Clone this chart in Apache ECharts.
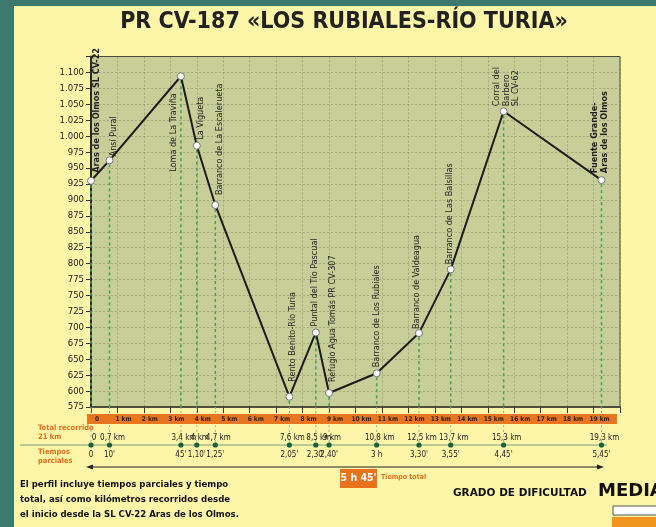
<!DOCTYPE html>
<html>
<head>
<meta charset="utf-8">
<script src="https://cdn.jsdelivr.net/npm/echarts@6/dist/echarts.min.js"></script>
<style>
  html, body { margin: 0; padding: 0; background: #3d7a6d; }
  #panel { position: absolute; left: 14px; top: 6px; width: 642px; height: 521px; background: #fdf5a8; }
  #chart { position: absolute; left: 0; top: 0; width: 656px; height: 527px; }
</style>
</head>
<body>
<div id="panel"></div>
<div id="chart"></div>
<script>
// puntos de paso del perfil
const kmPos = [0, 0.7, 3.4, 4.0, 4.7, 7.5, 8.5, 9.0, 10.8, 12.4, 13.6, 15.6, 19.3];
const elevation = [930, 962, 1094, 985, 892, 591, 692, 597, 628, 691, 791, 1039, 931];
const placeNames = [
  'Aras de los Olmos SL CV-22',
  'Ansí Pural',
  'Loma de La Traviña',
  'La Vigueta',
  'Barranco de La Escalerueta',
  'Rento Benito-Río Turia',
  'Puntal del Tío Pascual',
  'Refugio Agua Tomás PR CV-307',
  'Barranco de Los Rubiales',
  'Barranco de Valdeagua',
  'Barranco de Las Balsillas',
  'Corral del\nBarbero\nSL CV-62',
  'Fuente Grande-\nAras de los Olmos'
];
const kmText = ['0', '0,7 km', '3,4 km', '4 km', '4,7 km', '7,6 km', '8,5 km', '9 km',
  '10,8 km', '12,5 km', '13,7 km', '15,3 km', '19,3 km'];
const timeText = ['0', "10'", "45'", "1,10'", "1,25'", "2,05'", "2,30'", "2,40'",
  '3 h', "3,30'", "3,55'", "4,45'", "5,45'"];

const yMin = 575, yMax = 1125, yStep = 25;
const kmMax = 20;

// posicion de las etiquetas giradas respecto al punto: [dx, dy, align]
const labelLayout = [
  [6, -8, 'left'], [4, -4, 'left'], [-7, 17, 'right'], [4, -6, 'left'],
  [4, -10, 'left'], [3, -15, 'left'], [-1, -6, 'left'], [4, -11, 'left'],
  [0, -6, 'left'], [-2, -4, 'left'], [-1, -5, 'left'], [3, -5, 'left'], [-2, -7, 'left']
];

const COND = '"DejaVu Sans Condensed", "DejaVu Sans", sans-serif';
const ORANGE = '#e8731c';

function fmtElev(v) {
  if (v > 1100) return '';
  return v >= 1000 ? '1.' + String(v - 1000).padStart(3, '0') : String(v);
}

const pts = kmPos.map((k, i) => [k, elevation[i], i]);

// lineas verticales de cada punto de paso
function renderGuide(params, api) {
  const p = api.coord([api.value(0), api.value(1)]);
  const base = api.coord([api.value(0), yMin])[1];
  return {
    type: 'group',
    children: [
      { type: 'line', shape: { x1: p[0], y1: p[1] + 4, x2: p[0], y2: base },
        style: { stroke: '#46a05a', lineWidth: 1.5, lineDash: [3, 3] } },
      { type: 'line', shape: { x1: p[0], y1: base, x2: p[0], y2: base + 7 },
        style: { stroke: '#8aa88a', lineWidth: 1, lineDash: [2, 2] } },
      { type: 'line', shape: { x1: p[0], y1: base + 18, x2: p[0], y2: base + 38 },
        style: { stroke: '#9fb59a', lineWidth: 1, lineDash: [2, 3] } }
    ]
  };
}

// nombres girados + tabla de km y tiempos
function renderWaypoint(params, api) {
  const i = api.value(2);
  const p = api.coord([api.value(0), api.value(1)]);
  const base = api.coord([api.value(0), yMin])[1];
  const lay = labelLayout[i];
  const bold = (i === 0 || i === placeNames.length - 1);
  return {
    type: 'group',
    children: [
      { type: 'text', x: p[0] + lay[0], y: p[1] + lay[1], rotation: Math.PI / 2,
        style: { text: placeNames[i], fontSize: 9, fontFamily: COND,
          fontWeight: bold ? 'bold' : 'normal', fill: '#1e1e1e',
          align: lay[2], verticalAlign: 'middle', lineHeight: 9.5 } },
      { type: 'text', x: p[0] + 3, y: base + 31,
        style: { text: kmText[i], fontSize: 8, fontFamily: COND, fill: '#222',
          align: 'center', verticalAlign: 'middle' } },
      { type: 'circle', shape: { cx: p[0], cy: base + 38, r: 2.6 },
        style: { fill: '#17603a' } },
      { type: 'text', x: p[0], y: base + 48,
        style: { text: timeText[i], fontSize: 8, fontFamily: COND, fill: '#222',
          align: 'center', verticalAlign: 'middle' } }
    ]
  };
}

const chart = echarts.init(document.getElementById('chart'));

chart.setOption({
  animation: false,
  backgroundColor: 'transparent',
  grid: {
    left: 91, top: 56.5, width: 529, height: 350.5,
    show: true, backgroundColor: '#c7ce98', borderColor: '#4a4a3a', borderWidth: 1
  },
  xAxis: {
    type: 'value', min: 0, max: kmMax, interval: 1,
    axisLine: { lineStyle: { color: '#3a3a30', width: 1.5 } },
    axisTick: { show: true, length: 6, lineStyle: { color: '#3a3a30' } },
    axisLabel: {
      margin: 9, fontSize: 6.5, fontWeight: 'bold', fontFamily: COND, color: '#2b1d0e',
      padding: [0, 0, 0, 12],
      formatter: v => (v === 0 ? '0' : (v < kmMax ? v + ' km' : ''))
    },
    splitLine: { show: true, lineStyle: { color: 'rgba(90,100,70,0.35)', type: [2, 2] } }
  },
  yAxis: {
    type: 'value', min: yMin, max: yMax, interval: yStep,
    axisLine: { show: true, lineStyle: { color: '#2a2a2a', width: 2 } },
    axisTick: { show: true, length: 5, lineStyle: { color: '#333' } },
    axisLabel: { margin: 7, fontSize: 9.5, fontFamily: COND, color: '#222', formatter: fmtElev },
    splitLine: { show: true, lineStyle: { color: 'rgba(90,100,70,0.35)', type: [2, 2] } }
  },
  series: [
    { type: 'custom', z: 1, clip: false, renderItem: renderGuide, data: pts, silent: true },
    {
      type: 'line', z: 3, data: pts.map(d => [d[0], d[1]]),
      symbol: 'circle', symbolSize: 7,
      itemStyle: { color: '#ffffff', borderColor: '#777', borderWidth: 1 },
      lineStyle: { color: '#1c1c1c', width: 2 }
    },
    { type: 'custom', z: 4, clip: false, renderItem: renderWaypoint, data: pts, silent: true }
  ],
  graphic: [
    { type: 'text', x: 344, y: 22,
      style: { text: 'PR CV-187 «LOS RUBIALES-RÍO TURIA»', fontSize: 23, fontWeight: 'bold',
        fontFamily: COND, fill: '#222', align: 'center', verticalAlign: 'middle' } },
    // banda naranja de km
    { type: 'rect', z: -1, shape: { x: 87, y: 414, width: 530, height: 10 }, style: { fill: '#e8751f' } },
    { type: 'text', x: 38, y: 428, style: { text: 'Total recorrido', fontSize: 7.5, fontWeight: 'bold',
        fontFamily: COND, fill: '#e36f1c', verticalAlign: 'middle' } },
    { type: 'text', x: 38, y: 437, style: { text: '21 km', fontSize: 7.5, fontWeight: 'bold',
        fontFamily: COND, fill: '#e36f1c', verticalAlign: 'middle' } },
    { type: 'text', x: 38, y: 452, style: { text: 'Tiempos', fontSize: 7.5, fontWeight: 'bold',
        fontFamily: COND, fill: '#e36f1c', verticalAlign: 'middle' } },
    { type: 'text', x: 38, y: 461, style: { text: 'parciales', fontSize: 7.5, fontWeight: 'bold',
        fontFamily: COND, fill: '#e36f1c', verticalAlign: 'middle' } },
    { type: 'rect', z: -1, shape: { x: 20, y: 444, width: 587, height: 2 }, style: { fill: '#b8c992' } },
    // flecha
    { type: 'line', shape: { x1: 92, y1: 467, x2: 598, y2: 467 }, style: { stroke: '#222', lineWidth: 1 } },
    { type: 'polygon', shape: { points: [[86, 467], [93, 464.5], [93, 469.5]] }, style: { fill: '#222' } },
    { type: 'polygon', shape: { points: [[604, 467], [597, 464.5], [597, 469.5]] }, style: { fill: '#222' } },
    // tiempo total
    { type: 'rect', shape: { x: 340, y: 469, width: 37, height: 19 }, style: { fill: ORANGE } },
    { type: 'text', x: 358.5, y: 478.5, style: { text: "5 h 45'", fontSize: 10.5, fontWeight: 'bold',
        fontFamily: COND, fill: '#fff', align: 'center', verticalAlign: 'middle' } },
    { type: 'text', x: 381, y: 477, style: { text: 'Tiempo total', fontSize: 7, fontWeight: 'bold',
        fontFamily: COND, fill: ORANGE, verticalAlign: 'middle' } },
    // texto explicativo
    { type: 'text', x: 20, y: 485, style: { text: 'El perfil incluye tiempos parciales y tiempo',
        fontSize: 9.5, fontWeight: 'bold', fontFamily: COND, fill: '#111', verticalAlign: 'middle' } },
    { type: 'text', x: 20, y: 500, style: { text: 'total, así como kilómetros recorridos desde',
        fontSize: 9.5, fontWeight: 'bold', fontFamily: COND, fill: '#111', verticalAlign: 'middle' } },
    { type: 'text', x: 20, y: 515, style: { text: 'el inicio desde la SL CV-22 Aras de los Olmos.',
        fontSize: 9.5, fontWeight: 'bold', fontFamily: COND, fill: '#111', verticalAlign: 'middle' } },
    // dificultad
    { type: 'text', x: 453, y: 493, style: { text: 'GRADO DE DIFICULTAD', fontSize: 10.5, fontWeight: 'bold',
        fontFamily: '"DejaVu Sans", sans-serif', fill: '#111', verticalAlign: 'middle' } },
    { type: 'text', x: 598, y: 491, style: { text: 'MEDIA', fontSize: 18, fontWeight: 'bold',
        fontFamily: '"DejaVu Sans", sans-serif', fill: '#111', verticalAlign: 'middle' } },
    { type: 'rect', shape: { x: 613, y: 506, width: 50, height: 9 }, style: { fill: '#fff', stroke: '#555', lineWidth: 1 } },
    { type: 'rect', shape: { x: 612, y: 517, width: 50, height: 12 }, style: { fill: '#f0961e' } }
  ]
});
</script>
</body>
</html>
